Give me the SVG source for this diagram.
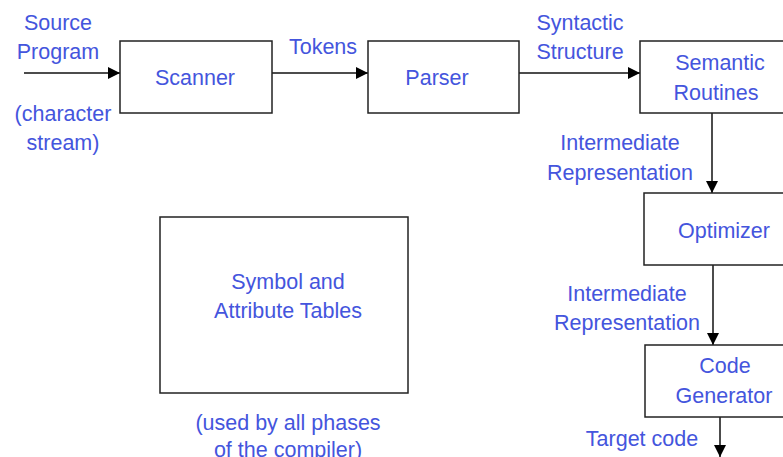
<svg xmlns="http://www.w3.org/2000/svg" width="783" height="457" viewBox="0 0 783 457">
<style>
.box{fill:#fff;stroke:#222;stroke-width:1.5}
.t{font-family:"Liberation Sans",Arial,sans-serif;font-size:21.5px;fill:#4455dd;text-anchor:middle}
.c{stroke:#111;stroke-width:1.5;fill:none;marker-end:url(#ah)}
</style>
<defs>
<marker id="ah" viewBox="0 0 12 12" refX="12" refY="6" markerWidth="12" markerHeight="12" markerUnits="userSpaceOnUse" orient="auto">
<path d="M0,0 L12,6 L0,12 Z" fill="#000"/>
</marker>
</defs>
<rect width="783" height="457" fill="#fff"/>
<g id="connectors">
<line class="c" x1="24" y1="73" x2="120" y2="73"/>
<line class="c" x1="272" y1="73" x2="368" y2="73"/>
<line class="c" x1="519" y1="73" x2="640" y2="73"/>
<line class="c" x1="712" y1="113" x2="712" y2="193"/>
<line class="c" x1="713" y1="265" x2="713" y2="345"/>
<line class="c" x1="720" y1="417" x2="720" y2="457"/>
</g>
<g id="labels">
<text class="t" x="58" y="30">Source</text>
<text class="t" x="58" y="59">Program</text>
<text class="t" x="63" y="121">(character</text>
<text class="t" x="63" y="150">stream)</text>
<text class="t" x="323" y="54">Tokens</text>
<text class="t" x="580" y="30">Syntactic</text>
<text class="t" x="580" y="59">Structure</text>
<text class="t" x="620" y="150">Intermediate</text>
<text class="t" x="620" y="180">Representation</text>
<text class="t" x="627" y="301">Intermediate</text>
<text class="t" x="627" y="330">Representation</text>
<text class="t" x="642" y="446">Target code</text>
<text class="t" x="288" y="430">(used by all phases</text>
<text class="t" x="288" y="457">of the compiler)</text>
</g>
<g id="scanner">
<rect class="box" x="120" y="41" width="152" height="72"/>
<text class="t" x="195" y="85">Scanner</text>
</g>
<g id="parser">
<rect class="box" x="368" y="41" width="151" height="72"/>
<text class="t" x="437" y="85">Parser</text>
</g>
<g id="semantic">
<rect class="box" x="640" y="41" width="150" height="72"/>
<text class="t" x="720" y="70">Semantic</text>
<text class="t" x="716" y="100">Routines</text>
</g>
<g id="optimizer">
<rect class="box" x="644" y="193" width="146" height="72"/>
<text class="t" x="724" y="238">Optimizer</text>
</g>
<g id="codegen">
<rect class="box" x="645" y="345" width="145" height="72"/>
<text class="t" x="725" y="373">Code</text>
<text class="t" x="724" y="403">Generator</text>
</g>
<g id="symtab">
<rect class="box" x="160" y="217" width="248" height="176"/>
<text class="t" x="288" y="289">Symbol and</text>
<text class="t" x="288" y="318">Attribute Tables</text>
</g>
</svg>
